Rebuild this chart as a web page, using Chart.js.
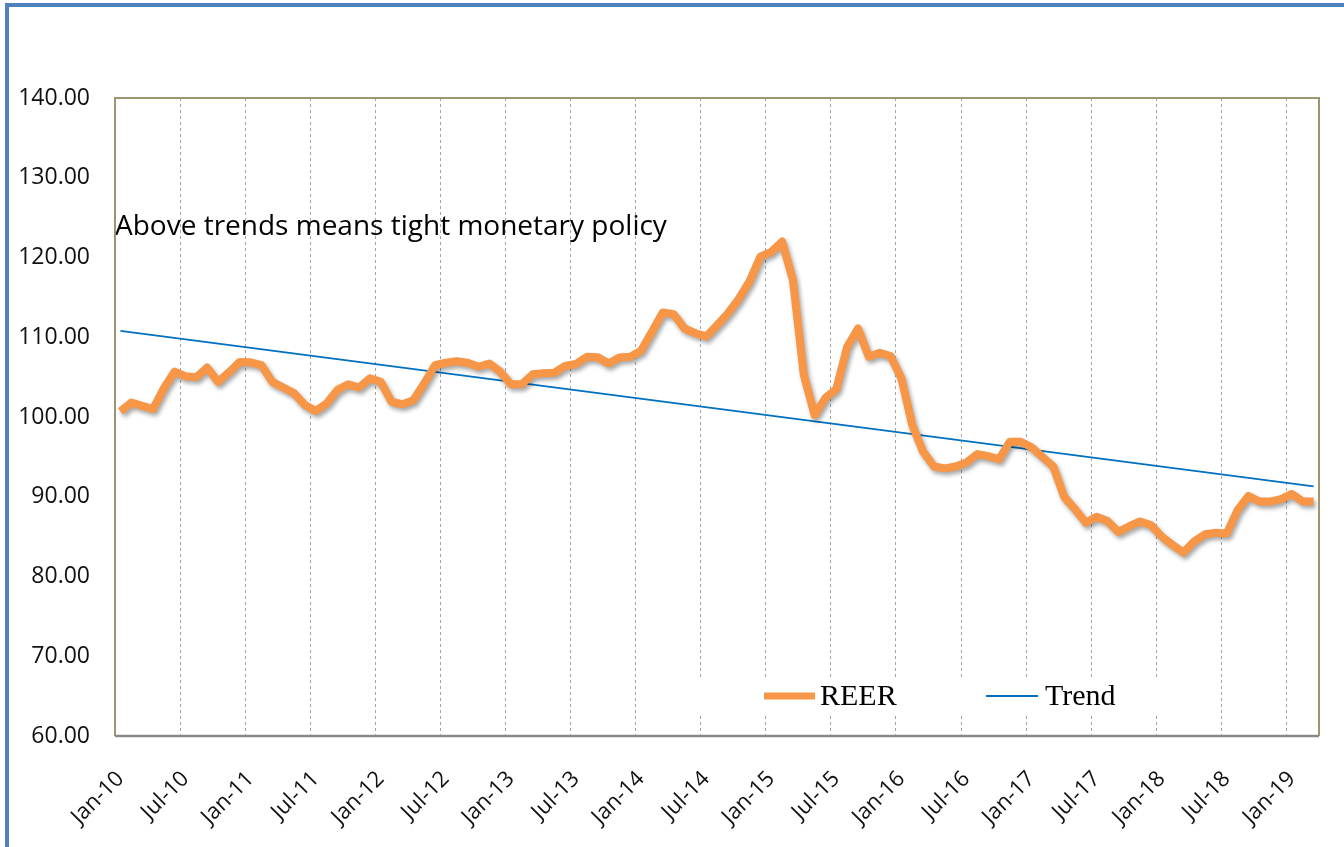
<!DOCTYPE html>
<html>
<head>
<meta charset="utf-8">
<script src="https://cdn.jsdelivr.net/npm/chart.js@4.4.1/dist/chart.umd.min.js"></script>
<style>
  body { margin: 0; background: #fff; overflow: hidden; }
  #wrap { position: relative; width: 1344px; height: 847px; }
  #frame {
    position: absolute; left: 5px; top: 3px; width: 1400px; height: 900px;
    border-left: 4px solid #4f81bd; border-top: 4px solid #4f81bd;
  }
  #chart { position: absolute; left: 0; top: 0; }
</style>
</head>
<body>
<div id="wrap">
  <div id="frame"></div>
  <canvas id="chart" width="1344" height="847"></canvas>
</div>
<script>
// monthly REER, Jan-10 .. Mar-19
const reer = [
  100.7, 101.8, 101.4, 101.0, 103.6, 105.7, 105.1, 105.0, 106.2, 104.4, 105.6, 106.9,
  106.85, 106.5, 104.4, 103.7, 103.0, 101.5, 100.75, 101.7, 103.4, 104.1, 103.7, 104.85,
  104.4, 101.9, 101.6, 102.1, 104.2, 106.5, 106.8, 107.0, 106.8, 106.3, 106.7, 105.7,
  104.1, 104.1, 105.35, 105.5, 105.55, 106.4, 106.65, 107.55, 107.5, 106.7, 107.45, 107.55,
  108.3, 110.7, 113.1, 112.9, 111.1, 110.5, 110.1, 111.5, 113.0, 114.8, 117.0, 120.1,
  120.7, 122.0, 117.2, 105.3, 100.25, 102.4, 103.5, 108.8, 111.1, 107.55, 108.05, 107.65,
  104.85, 99.0, 95.65, 93.8, 93.55, 93.8, 94.3, 95.35, 95.1, 94.7, 96.9, 96.9,
  96.2, 95.0, 93.8, 90.0, 88.45, 86.75, 87.5, 86.95, 85.6, 86.3, 86.9, 86.45,
  85.0, 83.95, 83.0, 84.4, 85.3, 85.5, 85.4, 88.35, 90.1, 89.4, 89.4, 89.7,
  90.35, 89.4, 89.4
];

// trend line end points
const trendStart = 110.8;
const trendEnd = 91.3;

const monthNames = ['Jan', 'Feb', 'Mar', 'Apr', 'May', 'Jun', 'Jul', 'Aug', 'Sep', 'Oct', 'Nov', 'Dec'];
const firstYear = 10;
const yTicks = [60, 70, 80, 90, 100, 110, 120, 130, 140];
const note = 'Above trends means tight monetary policy';

const labels = reer.map((_, i) => `${monthNames[i % 12]}-${firstYear + Math.floor(i / 12)}`);
const trend = reer.map((_, i) => i === 0 ? trendStart : (i === reer.length - 1 ? trendEnd : null));

const ORANGE = '#f79646';
const BLUE = '#0070c0';

// shadow under the REER line
const shadowPlugin = {
  id: 'shadow',
  beforeDatasetDraw(chart, args) {
    if (args.index !== 0) return;
    const ctx = chart.ctx;
    ctx.save();
    ctx.shadowColor = 'rgba(0,0,0,0.35)';
    ctx.shadowBlur = 4;
    ctx.shadowOffsetX = 2;
    ctx.shadowOffsetY = 3;
  },
  afterDatasetDraw(chart, args) {
    if (args.index !== 0) return;
    chart.ctx.restore();
  }
};

// legend box inside the plot + note text
const decorPlugin = {
  id: 'decor',
  beforeDatasetsDraw(chart) {
    const ctx = chart.ctx;
    const a = chart.chartArea;
    ctx.save();
    ctx.fillStyle = '#fff';
    ctx.fillRect(700, 678, 512, 36);

    ctx.lineCap = 'butt';
    ctx.strokeStyle = ORANGE;
    ctx.lineWidth = 7;
    ctx.beginPath(); ctx.moveTo(764, 696); ctx.lineTo(815, 696); ctx.stroke();
    ctx.strokeStyle = BLUE;
    ctx.lineWidth = 2;
    ctx.beginPath(); ctx.moveTo(986, 696); ctx.lineTo(1038, 696); ctx.stroke();

    ctx.fillStyle = '#000';
    ctx.font = '30px "Liberation Serif"';
    ctx.textBaseline = 'alphabetic';
    ctx.fillText('REER', 820, 705);
    ctx.fillText('Trend', 1045, 705);

    ctx.font = '28px "Open Sans"';
    ctx.fillText(note, a.left, 235);
    ctx.restore();
  },
  afterDraw(chart) {
    const ctx = chart.ctx;
    const a = chart.chartArea;
    ctx.save();
    ctx.lineWidth = 2;
    ctx.strokeStyle = '#9d9570';
    ctx.beginPath();
    ctx.moveTo(a.left, a.bottom);
    ctx.lineTo(a.left, a.top);
    ctx.lineTo(a.right, a.top);
    ctx.lineTo(a.right, a.bottom);
    ctx.stroke();
    ctx.strokeStyle = '#8a8a84';
    ctx.lineWidth = 2.5;
    ctx.beginPath(); ctx.moveTo(a.left, a.bottom); ctx.lineTo(a.right, a.bottom); ctx.stroke();
    ctx.restore();
  }
};

new Chart(document.getElementById('chart').getContext('2d'), {
  type: 'line',
  data: {
    labels: labels,
    datasets: [
      {
        label: 'REER',
        data: reer,
        borderColor: ORANGE,
        borderWidth: 8,
        borderJoinStyle: 'round',
        borderCapStyle: 'butt',
        pointRadius: 0,
        tension: 0,
        fill: false
      },
      {
        label: 'Trend',
        data: trend,
        borderColor: BLUE,
        borderWidth: 2,
        pointRadius: 0,
        spanGaps: true,
        fill: false
      }
    ]
  },
  options: {
    responsive: false,
    animation: false,
    layout: { padding: { top: 98, right: 25, bottom: 0, left: 0 } },
    plugins: {
      legend: { display: false },
      tooltip: { enabled: false }
    },
    scales: {
      x: {
        type: 'category',
        offset: true,
        afterFit: (s) => { s.height = 111; s.paddingLeft = 0; s.paddingRight = 0; },
        grid: {
          offset: true,
          drawTicks: false,
          color: (c) => (c.index % 6 === 0 ? '#a3a3a3' : 'rgba(0,0,0,0)'),
          lineWidth: 1
        },
        border: { display: false, dash: [3, 3] },
        ticks: {
          autoSkip: false,
          maxRotation: 45,
          minRotation: 45,
          padding: 30,
          color: '#111',
          font: { family: 'Open Sans', size: 22 },
          callback: function (v, i) { return i % 6 === 0 ? this.getLabelForValue(v) : ''; }
        }
      },
      y: {
        min: 60,
        max: 140,
        afterFit: (s) => { s.width = 115; },
        afterBuildTicks: (s) => { s.ticks = yTicks.map(v => ({ value: v })); },
        grid: { display: false, drawTicks: false },
        border: { display: false },
        ticks: {
          padding: 25,
          color: '#111',
          font: { family: 'Open Sans', size: 23 },
          callback: (v) => Number(v).toFixed(2)
        }
      }
    }
  },
  plugins: [shadowPlugin, decorPlugin]
});
</script>
</body>
</html>
